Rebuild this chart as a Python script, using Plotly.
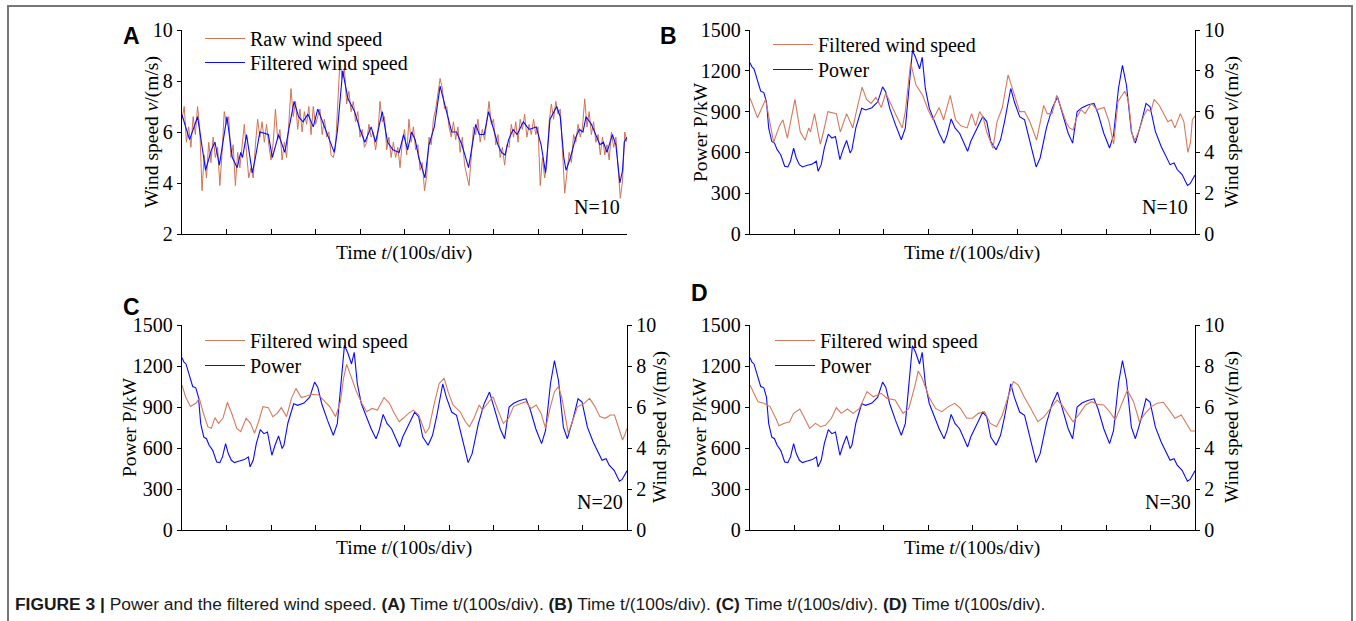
import plotly.graph_objects as go

W, H = 1356, 621

# ---------------- data (time in seconds, 100 s per division) ----------------
raw_time = list(range(0, 1001, 5))
raw_wind = [
    6.5, 7.0, 5.6, 6.2, 5.4, 6.6, 5.9, 7.0, 6.1, 3.7,
    5.1, 4.2, 5.6, 4.8, 5.8, 5.0, 5.4, 3.9, 5.2, 6.8,
    6.3, 6.6, 5.0, 5.5, 3.9, 5.2, 4.6, 5.6, 6.3, 5.2,
    4.2, 4.6, 4.2, 5.5, 6.5, 5.8, 6.4, 5.6, 6.3, 5.5,
    4.9, 5.6, 6.9, 5.7, 6.1, 4.9, 5.6, 5.0, 6.5, 7.7,
    6.6, 7.2, 6.1, 6.9, 6.0, 6.8, 6.3, 7.0, 5.9, 7.0,
    6.3, 6.6, 6.9, 5.9, 6.5, 5.8, 6.0, 5.1, 5.0, 5.4,
    7.0, 8.8, 8.1, 8.5, 7.1, 7.6, 6.8, 7.2, 6.4, 6.8,
    5.8, 6.1, 5.4, 5.6, 6.3, 5.8, 6.0, 5.3, 5.9, 7.2,
    6.4, 6.6, 5.3, 5.8, 5.0, 5.6, 5.0, 5.4, 4.6, 5.6,
    6.1, 5.1, 6.5, 5.6, 6.2, 5.3, 5.5, 4.5, 4.8, 3.7,
    4.3, 5.8, 5.5, 6.5, 6.9, 7.5, 8.1, 7.7, 6.9, 7.0,
    6.2, 5.8, 6.4, 5.7, 6.2, 5.2, 5.8, 4.7, 4.3, 3.9,
    5.0, 6.2, 5.9, 6.5, 5.6, 6.1, 5.7, 6.6, 7.2, 6.3,
    6.5, 5.5, 5.9, 5.0, 5.4, 4.7, 5.5, 5.4, 6.3, 5.8,
    6.4, 5.6, 6.5, 6.1, 6.7, 5.8, 6.3, 5.9, 6.5, 5.9,
    6.2, 3.9, 5.0, 4.2, 4.8, 6.4, 7.1, 6.5, 7.2, 6.7,
    6.9, 5.3, 3.6, 4.4, 5.2, 4.8, 5.9, 5.6, 6.3, 5.8,
    6.2, 7.3, 6.2, 6.8, 5.9, 6.4, 5.6, 5.9, 5.1, 5.8,
    5.1, 5.5, 4.9, 6.0, 5.4, 5.8, 4.5, 3.4, 4.1, 6.0,
    5.6,
]

f10_time = [0, 17, 35, 53, 66, 74, 84, 101, 113, 124, 132, 136, 145, 158, 165, 175,
            194, 203, 217, 231, 241, 252, 262, 272, 283, 295, 305, 322, 342, 349, 361,
            373, 388, 400, 411, 425, 435, 450, 462, 474, 488, 498, 507, 516, 524, 532,
            546, 555, 567, 580, 598, 606, 617, 629, 644, 652, 660, 668, 679, 689, 699,
            710, 718, 726, 734, 744, 753, 767, 780, 796, 807, 817, 827, 842, 850, 858,
            863, 873, 885, 893, 901, 908, 920, 932, 939, 947, 955, 967, 975, 984, 990,
            994, 1000]
f10_wind = [6.67, 5.7, 6.6, 4.5, 5.3, 5.6, 4.7, 6.6, 5.0, 4.6, 5.2, 5.0, 5.9, 4.4, 5.0, 6.0,
            5.9, 5.0, 5.9, 5.2, 6.2, 7.2, 6.6, 6.4, 6.7, 6.2, 6.9, 6.1, 5.2, 6.0, 8.4,
            7.3, 6.8, 6.1, 5.6, 6.2, 5.6, 6.8, 5.6, 5.3, 5.2, 5.9, 5.3, 6.0, 5.7, 5.0,
            4.2, 5.5, 6.2, 7.8, 6.5, 6.0, 6.0, 5.5, 4.6, 5.4, 6.3, 5.9, 5.9, 6.8, 6.2,
            5.5, 5.2, 5.1, 5.7, 6.1, 5.9, 6.4, 6.1, 6.2, 5.5, 4.4, 6.5, 7.0, 6.6, 5.0,
            4.5, 5.0, 5.8, 6.1, 6.0, 6.6, 6.3, 5.8, 5.5, 5.6, 5.2, 5.9, 5.5, 4.0, 4.5,
            5.6, 5.8]

f20_time = [0, 8, 19, 31, 39, 47, 58, 66, 74, 82, 92, 102, 113, 123, 132, 144, 154, 163,
            172, 182, 194, 204, 214, 223, 235, 246, 256, 268, 280, 291, 307, 318, 332,
            345, 356, 363, 370, 380, 392, 404, 415, 427, 439, 454, 466, 477, 488, 497,
            509, 520, 532, 547, 555, 567, 578, 589, 598, 609, 625, 637, 646, 656, 668,
            675, 687, 699, 710, 722, 734, 745, 757, 773, 784, 796, 807, 817, 827, 837,
            846, 854, 868, 877, 889, 901, 916, 928, 939, 951, 963, 972, 982, 990, 995, 1000]
f20_wind = [7.07, 6.5, 6.02, 6.18, 6.42, 5.77, 5.04, 4.96, 5.48, 5.2, 5.45, 6.23, 5.61, 4.96,
            4.8, 5.45, 5.2, 4.72, 5.28, 6.02, 5.97, 5.53, 5.69, 5.97, 5.53, 6.42, 6.91, 6.46,
            6.54, 6.62, 6.59, 6.34, 6.02, 5.53, 6.26, 7.4, 8.08, 7.48, 6.75, 6.18, 5.77, 5.93,
            5.85, 6.46, 6.18, 5.69, 5.28, 5.45, 5.69, 5.85, 5.61, 4.72, 4.96, 6.18, 7.15, 7.4,
            6.75, 6.1, 5.77, 5.28, 5.04, 5.45, 6.1, 5.85, 6.18, 6.5, 5.85, 5.2, 5.45, 6.02,
            6.13, 6.26, 5.93, 6.1, 5.69, 4.96, 5.93, 6.75, 7.0, 6.42, 4.72, 5.28, 6.02, 6.13,
            6.42, 6.02, 5.53, 5.45, 5.61, 5.61, 4.96, 4.39, 4.63, 4.96]

f30_time = [0, 9, 18, 31, 45, 58, 65, 76, 89, 98, 112, 121, 134, 147, 159, 170, 183, 194,
            205, 219, 232, 246, 263, 277, 295, 308, 326, 344, 357, 371, 378, 387, 402, 417,
            431, 446, 460, 473, 487, 500, 513, 527, 540, 554, 567, 580, 592, 603, 616, 631,
            647, 661, 679, 690, 701, 714, 726, 741, 754, 768, 781, 795, 808, 821, 835, 848,
            862, 875, 888, 902, 915, 929, 942, 955, 969, 982, 991, 1000]
f30_wind = [7.07, 6.67, 6.26, 6.18, 6.02, 5.45, 5.09, 5.2, 5.28, 5.69, 5.9, 5.53, 4.96, 5.2,
            5.04, 5.12, 5.45, 5.97, 5.69, 5.9, 5.69, 5.93, 6.75, 6.5, 6.67, 6.42, 6.34, 5.69,
            5.93, 7.07, 7.76, 7.4, 6.5, 5.93, 5.77, 6.02, 6.18, 5.93, 5.45, 5.45, 5.69, 5.77,
            5.2, 5.04, 5.61, 6.5, 7.24, 7.07, 6.5, 5.93, 5.28, 5.53, 6.02, 6.34, 6.1, 5.69,
            5.28, 5.69, 6.1, 6.26, 6.13, 6.1, 5.77, 5.37, 6.1, 6.83, 6.26, 5.28, 5.69, 6.02,
            6.18, 6.23, 5.85, 5.45, 5.61, 5.12, 4.83, 4.83]

power_time = [0, 4.5, 9, 15, 24, 31, 37, 42, 49, 55, 61, 69, 78, 85, 91, 98, 104, 111, 118,
              127, 140, 149, 153, 160, 167, 176, 184, 192, 202, 209, 217, 225, 229, 238, 251,
              260, 274, 287, 298, 305, 314, 327, 340, 349, 358, 365, 372, 381, 387, 394, 403,
              414, 425, 436, 443, 452, 461, 471, 480, 489, 496, 510, 523, 532, 541, 553, 563,
              572, 586, 594, 606, 617, 630, 643, 652, 666, 679, 691, 701, 715, 725, 735, 746,
              759, 773, 782, 795, 808, 817, 828, 837, 846, 857, 866, 878, 890, 899, 911, 924,
              933, 944, 953, 960, 971, 983, 989, 1000]
power_kw = [1260, 1228, 1215, 1143, 1050, 1040, 972, 778, 680, 668, 620, 583, 498, 493, 535,
            632, 559, 510, 493, 503, 515, 535, 462, 510, 632, 734, 705, 717, 547, 620, 688,
            596, 620, 783, 924, 912, 929, 972, 1082, 1045, 924, 802, 693, 778, 1070, 1349,
            1300, 1215, 1300, 1070, 924, 827, 741, 668, 729, 846, 778, 741, 680, 608, 680,
            778, 863, 827, 680, 620, 693, 827, 1070, 972, 863, 839, 656, 493, 559, 778, 924,
            1009, 899, 741, 668, 899, 929, 948, 960, 887, 741, 632, 729, 1070, 1240, 1094,
            753, 668, 802, 960, 936, 753, 644, 583, 510, 522, 474, 437, 357, 370, 433]

time_ticks = list(range(0, 1001, 100))
wind_ticks = [0, 2, 4, 6, 8, 10]
wind_ticks_a = [2, 4, 6, 8, 10]
power_ticks = [0, 300, 600, 900, 1200, 1500]

# ---------------- style ----------------
SERIF = "Liberation Serif"
SANS = "Liberation Sans"
BLUE = "#0a0aff"
BROWN = "#d47a5c"
RAW = "#cf7452"


def px(x):
    return x / W


def py(y):
    return 1 - y / H


fig = go.Figure()

# Panel A
fig.add_trace(go.Scatter(x=raw_time, y=raw_wind, mode="lines", name="Raw wind speed",
                         line=dict(color=RAW, width=1.0), xaxis="x", yaxis="y", legend="legend"))
fig.add_trace(go.Scatter(x=f10_time, y=f10_wind, mode="lines", name="Filtered wind speed",
                         line=dict(color=BLUE, width=1.1), xaxis="x", yaxis="y", legend="legend2"))

# Panels B, C, D
panels = [
    ("x2", "y2", "y3", "legend3", "legend4", f10_time, f10_wind),
    ("x3", "y4", "y5", "legend5", "legend6", f20_time, f20_wind),
    ("x4", "y6", "y7", "legend7", "legend8", f30_time, f30_wind),
]
for xa, ya, yb, lg1, lg2, wt, wv in panels:
    fig.add_trace(go.Scatter(x=wt, y=wv, mode="lines", name="Filtered wind speed",
                             line=dict(color=BROWN, width=1.1), xaxis=xa, yaxis=yb, legend=lg1))
    fig.add_trace(go.Scatter(x=power_time, y=power_kw, mode="lines", name="Power",
                             line=dict(color=BLUE, width=1.1), xaxis=xa, yaxis=ya, legend=lg2))

axis_common = dict(showline=True, linecolor="black", linewidth=1.3, showgrid=False,
                   zeroline=False, tickfont=dict(family=SERIF, size=20, color="black"),
                   tickcolor="black", automargin=False)


def xaxis(left, right, anchor):
    return dict(axis_common, domain=[px(left), px(right)], anchor=anchor, range=[0, 1000],
                tickmode="array", tickvals=time_ticks, ticks="inside", ticklen=5,
                showticklabels=False)


def yleft(top, bottom, anchor, rng, vals):
    return dict(axis_common, domain=[py(bottom), py(top)], anchor=anchor, range=rng,
                tickmode="array", tickvals=vals, ticks="outside", ticklen=4)


def yright(over, anchor, vals):
    return dict(axis_common, overlaying=over, side="right", anchor=anchor, range=[0, 10],
                tickmode="array", tickvals=vals, ticks="outside", ticklen=4)


AX_L, AX_R, BX_L, BX_R = 182, 627, 750, 1195
TOP1, BOT1, TOP2, BOT2 = 30, 234, 325, 530

legend_common = dict(font=dict(family=SERIF, size=20, color="black"), bgcolor="rgba(0,0,0,0)",
                     xanchor="left", yanchor="top", itemwidth=40)


def leg(x_text, y_center):
    return dict(legend_common, x=px(x_text - 50), y=py(y_center - 21))


fig.update_layout(
    width=W, height=H, margin=dict(l=0, r=0, t=0, b=0, autoexpand=False),
    paper_bgcolor="white", plot_bgcolor="white",
    xaxis=xaxis(AX_L, AX_R, "y"),
    yaxis=yleft(TOP1, BOT1, "x", [2, 10], wind_ticks_a),
    xaxis2=xaxis(BX_L, BX_R, "y2"),
    yaxis2=yleft(TOP1, BOT1, "x2", [0, 1500], power_ticks),
    yaxis3=yright("y2", "x2", wind_ticks),
    xaxis3=xaxis(AX_L, AX_R, "y4"),
    yaxis4=yleft(TOP2, BOT2, "x3", [0, 1500], power_ticks),
    yaxis5=yright("y4", "x3", wind_ticks),
    xaxis4=xaxis(BX_L, BX_R, "y6"),
    yaxis6=yleft(TOP2, BOT2, "x4", [0, 1500], power_ticks),
    yaxis7=yright("y6", "x4", wind_ticks),
    legend=leg(250, 40),
    legend2=leg(250, 64),
    legend3=leg(818, 46),
    legend4=leg(818, 71),
    legend5=leg(250, 342),
    legend6=leg(250, 367),
    legend7=leg(820, 342),
    legend8=leg(820, 367),
    showlegend=True,
)

ann = []


def text(x, y, s, size=19.5, family=SERIF, angle=0, xanchor="center", color="black"):
    ann.append(dict(x=px(x), y=py(y), xref="paper", yref="paper", text=s, showarrow=False,
                    textangle=angle, xanchor=xanchor, yanchor="middle",
                    font=dict(family=family, size=size, color=color)))


WS = "Wind speed <i>v</i>/(m/s)"
TT = "Time <i>t</i>/(100s/div)"
PW = "Power P/kW"

# Panel A
text(152, 132, WS, angle=-90)
text(404, 253, TT)
text(622, 207, "N=10", size=20, xanchor="right")
# Panel B
text(700, 132, PW, angle=-90)
text(1232, 132, WS, angle=-90)
text(972, 253, TT)
text(1190, 207, "N=10", size=20, xanchor="right")
# Panel C
text(130, 427, PW, angle=-90)
text(660, 427, WS, angle=-90)
text(404, 548, TT)
text(625, 502, "N=20", size=20, xanchor="right")
# Panel D
text(700, 427, PW, angle=-90)
text(1232, 427, WS, angle=-90)
text(972, 548, TT)
text(1193, 502, "N=30", size=20, xanchor="right")

# panel letters
text(131, 36, "<b>A</b>", size=23, family=SANS)
text(668, 36, "<b>B</b>", size=23, family=SANS)
text(131, 307, "<b>C</b>", size=23, family=SANS)
text(700, 293, "<b>D</b>", size=23, family=SANS)

caption = ("<b>FIGURE 3 |</b> Power and the filtered wind speed. <b>(A)</b> Time t/(100s/div). "
           "<b>(B)</b> Time t/(100s/div). <b>(C)</b> Time t/(100s/div). <b>(D)</b> Time t/(100s/div).")
text(13, 604, caption, size=17.4, family=SANS, xanchor="left", color="#1a1a1a")

fig.update_layout(annotations=ann)

# outer frame of the figure panel
fig.add_shape(type="rect", xref="paper", yref="paper", x0=px(8), x1=px(1352), y0=py(640),
              y1=py(6), line=dict(color="#777777", width=2), fillcolor="rgba(0,0,0,0)")

fig.write_html("out.html")
